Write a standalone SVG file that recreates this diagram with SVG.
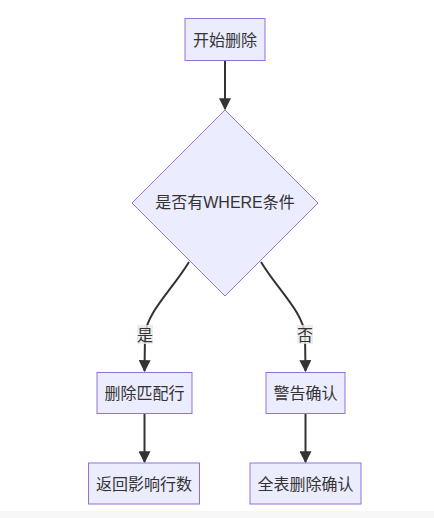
<svg xmlns="http://www.w3.org/2000/svg" width="434" height="518" viewBox="0 0 434 518">
<defs>
<style>
.node rect,.node polygon{fill:#ECECFF;stroke:#9370DB;stroke-width:1}
text{font-family:"Liberation Sans","Noto Sans CJK SC",sans-serif;font-size:16px;fill:#333;text-anchor:middle;dominant-baseline:central}
.edge{fill:none;stroke:#333;stroke-width:2}
.lbl{fill:#e8e8e8;opacity:0.8}
</style>
<marker id="arr" viewBox="0 0 10 10" refX="9" refY="5" markerWidth="6" markerHeight="6" markerUnits="strokeWidth" orient="auto">
<path d="M0,0 L10,5 L0,10 z" fill="#333"/>
</marker>
</defs>
<rect width="434" height="518" fill="#ffffff"/>
<rect x="0" y="511" width="434" height="7" fill="#f7f7f7"/>
<g id="edges">
<path class="edge" d="M225,61 L225,109" marker-end="url(#arr)"/>
<path class="edge" d="M189,262 C172,290 147,312 145,335 L144.5,371" marker-end="url(#arr)"/>
<path class="edge" d="M261,262 C278,290 303,312 305,335 L305.5,371" marker-end="url(#arr)"/>
<path class="edge" d="M144.5,413 L144.5,462" marker-end="url(#arr)"/>
<path class="edge" d="M305.5,413 L305.5,462" marker-end="url(#arr)"/>
<rect class="lbl" x="137" y="325" width="16" height="19"/>
<text x="145" y="335">是</text>
<rect class="lbl" x="297" y="325" width="16" height="19"/>
<text x="305" y="335">否</text>
</g>
<g id="start" class="node"><rect x="185" y="18.5" width="80" height="42"/><text x="225" y="40">开始删除</text></g>
<g id="cond" class="node"><polygon points="225,110 318,203 225,296 132,203"/><text x="225" y="202">是否有WHERE条件</text></g>
<g id="delmatch" class="node"><rect x="97" y="372.5" width="95" height="41"/><text x="144.5" y="393">删除匹配行</text></g>
<g id="warn" class="node"><rect x="266" y="372.5" width="79" height="41"/><text x="305.5" y="393">警告确认</text></g>
<g id="ret" class="node"><rect x="88.5" y="463" width="111" height="41"/><text x="144" y="484">返回影响行数</text></g>
<g id="full" class="node"><rect x="250" y="463" width="111" height="41"/><text x="305.5" y="484">全表删除确认</text></g>
</svg>
